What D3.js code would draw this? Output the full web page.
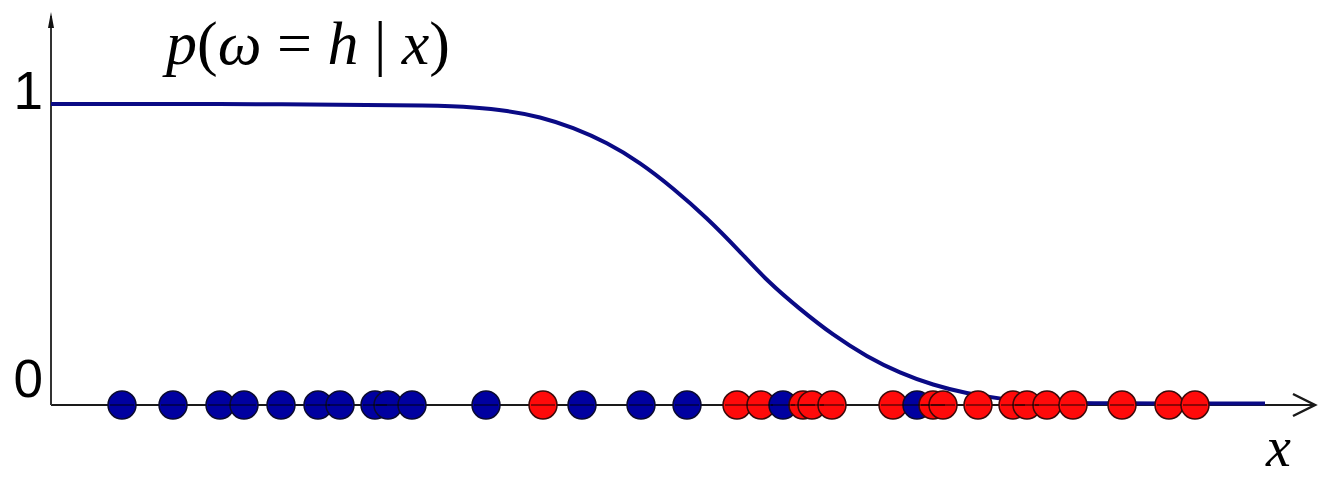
<!DOCTYPE html>
<html>
<head>
<meta charset="utf-8">
<script src="https://cdn.jsdelivr.net/npm/d3@7/dist/d3.min.js"></script>
<style>
  html, body { margin: 0; padding: 0; background: #fff; }
  svg { display: block; }
</style>
</head>
<body>
<svg id="chart" width="1319" height="480"></svg>
<script>
// Observations of class h (blue) and the other class (red), positions along x
const blueX = [7.1, 12.2, 16.9, 19.3, 23.0, 26.7, 28.9, 32.4, 33.7, 36.1, 43.5, 53.1, 59.0, 63.6, 73.2, 86.6];
const redX  = [49.2, 68.6, 71.0, 75.2, 76.1, 78.1, 84.2, 88.2, 89.2, 92.7, 96.2, 97.6, 99.6, 102.2, 107.1, 111.8, 114.4];

// Posterior curve p(ω = h | x), sampled along x
const curveX = [0.0, 24.9, 38.9, 42.2, 45.6, 48.9, 52.2, 55.6, 58.9, 62.2, 65.6, 68.9, 71.6, 74.9, 78.2, 81.6, 84.9, 88.2, 91.6, 94.9, 98.9, 104.9, 121.4];
const curveP = [1.0, 1.0, 0.995, 0.989, 0.978, 0.958, 0.922, 0.872, 0.806, 0.721, 0.622, 0.510, 0.412, 0.318, 0.232, 0.160, 0.106, 0.066, 0.038, 0.020, 0.009, 0.005, 0.005];

// Axis tick labels
const yTickValues = [0, 1];
const yTickLabels = ["0", "1"];

const svg = d3.select("#chart");

const x = d3.scaleLinear().domain([0, 125.5]).range([51, 1306]);
const y = d3.scaleLinear().domain([0, 1]).range([405, 104]);

// Axes
const axisColor = "#1a1a1a";
svg.append("line")
  .attr("x1", x(0)).attr("x2", 1314)
  .attr("y1", y(0)).attr("y2", y(0))
  .attr("stroke", axisColor).attr("stroke-width", 2);
svg.append("path")
  .attr("d", `M1293,${y(0) - 11} L1315,${y(0)} L1293,${y(0) + 11}`)
  .attr("fill", "none").attr("stroke", axisColor).attr("stroke-width", 2.5);

svg.append("line")
  .attr("x1", x(0)).attr("x2", x(0))
  .attr("y1", y(0)).attr("y2", 16)
  .attr("stroke", "#333").attr("stroke-width", 2);
svg.append("path")
  .attr("d", `M${x(0) - 3},28 L${x(0)},12 L${x(0) + 3},28 Z`)
  .attr("fill", "#111");

// Y tick labels
svg.selectAll("text.ytick")
  .data(yTickValues)
  .join("text")
  .attr("class", "ytick")
  .attr("x", 43)
  .attr("y", d => d === 1 ? 109 : 397)
  .attr("text-anchor", "end")
  .attr("font-family", "Liberation Sans, Arial, sans-serif")
  .attr("font-size", 53)
  .attr("fill", "#000")
  .text((d, i) => yTickLabels[i]);

// Posterior curve
const curveData = curveX.map((v, i) => ({ x: v, p: curveP[i] }));
svg.append("path")
  .datum(curveData)
  .attr("fill", "none")
  .attr("stroke", "#0a0a85")
  .attr("stroke-width", 4)
  .attr("d", d3.line().x(d => x(d.x)).y(d => y(d.p)).curve(d3.curveBasis));

// Observation markers, drawn left to right so later ones sit on top
const points = blueX.map(v => ({ x: v, c: "h" }))
  .concat(redX.map(v => ({ x: v, c: "o" })))
  .sort((a, b) => a.x - b.x);

svg.selectAll("circle.obs")
  .data(points)
  .join("circle")
  .attr("class", "obs")
  .attr("cx", d => x(d.x))
  .attr("cy", y(0))
  .attr("r", 14)
  .attr("fill", d => d.c === "h" ? "#0000a0" : "#ff0a0a")
  .attr("stroke", d => d.c === "h" ? "#0a0a30" : "#3a0a0a")
  .attr("stroke-width", 1.5);

// Axis line visible through the markers
svg.selectAll("line.through")
  .data(points)
  .join("line")
  .attr("class", "through")
  .attr("x1", d => x(d.x) - 12).attr("x2", d => x(d.x) + 12)
  .attr("y1", y(0)).attr("y2", y(0))
  .attr("stroke", "#000").attr("stroke-width", 1.2).attr("opacity", 0.75);

// Title p(ω = h | x)
const title = svg.append("text")
  .attr("x", 166).attr("y", 64)
  .attr("font-family", "Liberation Serif, Times New Roman, serif")
  .attr("font-size", 62)
  .attr("fill", "#000");
title.append("tspan").attr("font-style", "italic").text("p");
title.append("tspan").text("(");
title.append("tspan").attr("font-style", "italic").text("ω");
title.append("tspan").text(" = ");
title.append("tspan").attr("font-style", "italic").text("h");
title.append("tspan").text(" | ");
title.append("tspan").attr("font-style", "italic").text("x");
title.append("tspan").text(")");

// X axis label
svg.append("text")
  .attr("x", 1266).attr("y", 466)
  .attr("font-family", "Liberation Serif, Times New Roman, serif")
  .attr("font-style", "italic")
  .attr("font-size", 56)
  .attr("fill", "#000")
  .text("x");
</script>
</body>
</html>
